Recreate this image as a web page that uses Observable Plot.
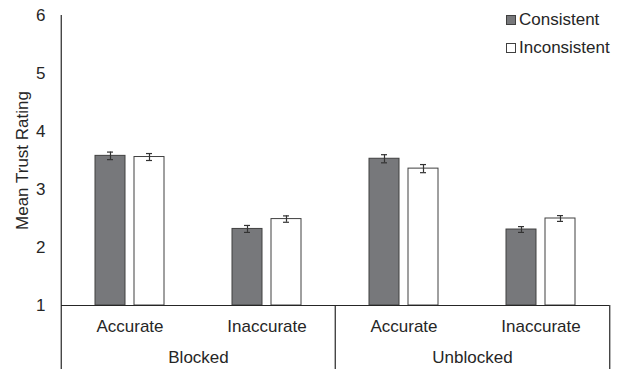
<!DOCTYPE html>
<html>
<head>
<meta charset="utf-8">
<script src="https://cdn.jsdelivr.net/npm/d3@7"></script>
<script src="https://cdn.jsdelivr.net/npm/@observablehq/plot@0.6"></script>
<style>
  body { margin: 0; background: #fff; }
  #wrap { position: relative; width: 622px; height: 369px; font-family: 'Liberation Sans', Arial, sans-serif; color: #262626; }
  #legend { position: absolute; left: 506px; top: 6px; font-size: 17px; }
  #legend .row { display: flex; align-items: center; height: 28px; }
  #legend .sw { width: 10px; height: 10px; box-sizing: border-box; border: 1px solid #404040; margin-right: 3px; }
</style>
</head>
<body>
<div id="wrap"></div>
<script>
const groups = ["Blocked", "Unblocked"];
const accuracies = ["Accurate", "Inaccurate"];
const conditions = ["Consistent", "Inconsistent"];
// order: Blocked-Accurate, Blocked-Inaccurate, Unblocked-Accurate, Unblocked-Inaccurate
const consistentMean = [3.58, 2.32, 3.53, 2.31];
const consistentSE = [0.065, 0.06, 0.07, 0.05];
const inconsistentMean = [3.56, 2.49, 3.36, 2.50];
const inconsistentSE = [0.06, 0.055, 0.07, 0.05];
const yTicks = [1, 2, 3, 4, 5, 6];
const barColors = ["#77787b", "#ffffff"];

const ink = "#404040";
const cells = groups.flatMap(g => accuracies.map(a => `${g}|${a}`));
const rows = cells.flatMap((c, i) => [
  {cell: c, condition: conditions[0], mean: consistentMean[i], se: consistentSE[i]},
  {cell: c, condition: conditions[1], mean: inconsistentMean[i], se: inconsistentSE[i]}
]);
const leftEdges = [
  {cell: cells[0], top: 6},
  {cell: cells[2], top: 1}
];
const rightEdges = [{cell: cells[3], top: 1}];
const groupLabels = groups.map(g => ({cell: `${g}|${accuracies[1]}`, label: g}));
const bottomY = -0.12;

const chart = Plot.plot({
  width: 622,
  height: 369,
  marginTop: 15,
  marginBottom: 64,
  marginLeft: 60,
  marginRight: 12,
  style: {fontFamily: "'Liberation Sans', Arial, sans-serif", fontSize: "17px", color: "#262626", background: "white"},
  fx: {domain: cells, padding: 0, axis: "bottom", tickSize: 0, tickPadding: 14, tickFormat: d => d.split("|")[1], label: null},
  x: {domain: conditions, paddingInner: 0.225, paddingOuter: 0.83, axis: null},
  y: {domain: [1, 6], ticks: yTicks, tickFormat: d3.format("d"), tickSize: 0, tickPadding: 16, label: "Mean Trust Rating", labelAnchor: "center", labelArrow: "none", labelOffset: 46},
  color: {domain: conditions, range: barColors},
  marks: [
    Plot.barY(rows, {fx: "cell", x: "condition", y1: 1, y2: "mean", fill: "condition", stroke: ink, strokeWidth: 1}),
    Plot.ruleX(rows, {fx: "cell", x: "condition", y1: d => d.mean - d.se, y2: d => d.mean + d.se, stroke: "#333", strokeWidth: 1.2}),
    Plot.tickY(rows, {fx: "cell", x: "condition", y: d => d.mean - d.se, insetLeft: 12, insetRight: 12, stroke: "#333", strokeWidth: 1.2}),
    Plot.tickY(rows, {fx: "cell", x: "condition", y: d => d.mean + d.se, insetLeft: 12, insetRight: 12, stroke: "#333", strokeWidth: 1.2}),
    Plot.ruleY([1], {stroke: "#262626", strokeWidth: 1.2}),
    Plot.ruleX(leftEdges, {fx: "cell", x: null, y1: "top", y2: bottomY, dx: -68.75, stroke: "#262626", strokeWidth: 1.2}),
    Plot.ruleX(rightEdges, {fx: "cell", x: null, y1: "top", y2: bottomY, dx: 68.75, stroke: "#262626", strokeWidth: 1.2}),
    Plot.text(groupLabels, {fx: "cell", text: "label", frameAnchor: "bottom-left", textAnchor: "middle", lineAnchor: "middle", dy: 52, fill: "#262626"})
  ]
});
const wrap = document.getElementById("wrap");
wrap.appendChild(chart);

const legend = d3.select(wrap).append("div").attr("id", "legend");
const items = legend.selectAll(".row").data(conditions).join("div").attr("class", "row");
items.append("span").attr("class", "sw").style("background", (d, i) => barColors[i]);
items.append("span").text(d => d);
</script>
</body>
</html>
